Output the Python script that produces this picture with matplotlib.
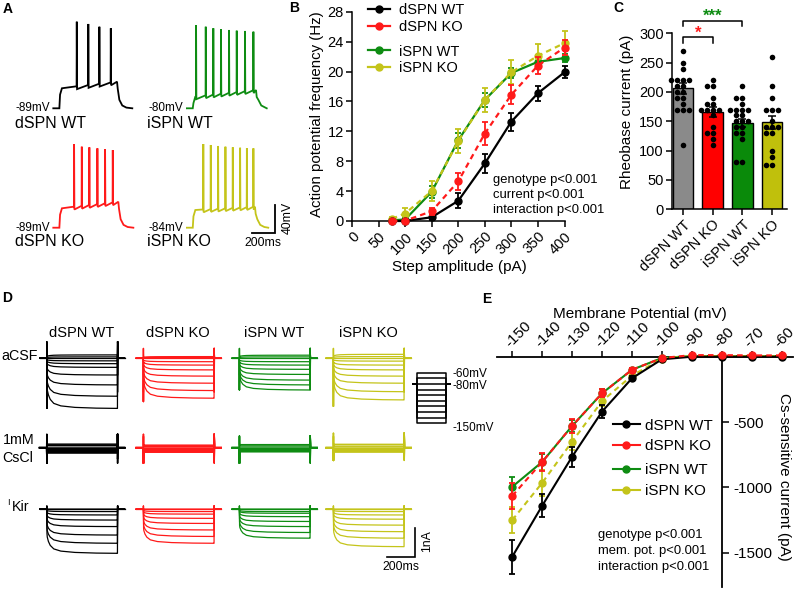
import numpy as np
import matplotlib
matplotlib.use('Agg')
import matplotlib.pyplot as plt
from matplotlib.lines import Line2D

plt.rcParams['font.family'] = ['Liberation Sans', 'DejaVu Sans']
plt.rcParams['lines.scale_dashes'] = False
plt.rcParams['axes.linewidth'] = 1.1
plt.rcParams['axes.unicode_minus'] = False

W, H = 800, 593
fig = plt.figure(figsize=(W / 100, H / 100), dpi=100)

# ============================ DATA ============================
groups = ['dSPN WT', 'dSPN KO', 'iSPN WT', 'iSPN KO']
line_colors = ['#000000', '#ff1a1a', '#0e8c12', '#c4c41a']
bar_colors = ['#8a8a8a', '#ff0000', '#0a8a0a', '#c0c00c']

# ---- Panel A (current clamp traces; ms / mV) ----
A_rest = [-89, -89, -80, -84]
A_step_on = [52, 52, 52, 52]
A_step_off = [547, 558, 595, 586]
A_end = [678, 687, 687, 700]
A_v_start = [-60.7, -61.6, -63.6, -59.0]
A_v_end = [-51.4, -52.3, -54.1, -54.3]
A_spike_t = [[201, 300, 395, 493],
             [178, 244, 309, 378, 444, 510],
             [80, 163, 228, 294, 363, 429, 500, 572],
             [142, 206, 269, 332, 395, 458, 516, 572]]
A_spike_peak = [[33.4, 30.2, 26.3, 24.1],
                [28.9, 25.5, 24.6, 23.2, 22.2, 20.8],
                [37.7, 35.3, 33.1, 31.7, 30.7, 29.7, 29.3, 28.3],
                [34.3, 32.9, 31.5, 30.5, 29.6, 29.0, 28.6, 28.2]]
A_rest_labels = ['-89mV', '-89mV', '-80mV', '-84mV']

# ---- Panel B ----
step_amp = [75, 100, 150, 200, 250, 300, 350, 400]
freq_dWT = [0, 0, 0.5, 2.7, 7.7, 13.3, 17.1, 19.9]
err_dWT = [0, 0.1, 0.36, 1.0, 1.3, 1.2, 1.0, 0.78]
freq_dKO = [0, 0.05, 1.3, 5.3, 11.7, 16.9, 20.8, 23.2]
err_dKO = [0, 0.1, 0.45, 1.1, 1.55, 1.3, 1.1, 1.0]
freq_iWT = [0.1, 0.2, 3.9, 10.8, 16.2, 19.8, 21.3, 21.8]
err_iWT = [0.1, 0.2, 0.8, 1.0, 0.9, 0.7, 0.6, 0.5]
freq_iKO = [0.3, 1.0, 4.0, 10.7, 16.2, 19.9, 22.1, 23.8]
err_iKO = [0.2, 0.8, 1.3, 1.6, 1.6, 1.6, 1.6, 1.65]
B_stats = ['genotype p<0.001', 'current p<0.001', 'interaction p<0.001']

# ---- Panel C ----
rheo_mean = [206, 166, 146.5, 148]
rheo_sem = [10, 8, 7, 11]
rheo_dWT = [270, 250, 240, 220, 220, 220, 220, 210, 210, 200, 200, 190, 190, 180, 170, 170, 170, 110]
rheo_dKO = [220, 210, 210, 190, 180, 180, 170, 170, 170, 170, 160, 140, 130, 130, 120, 110]
rheo_iWT = [210, 190, 190, 180, 170, 170, 170, 170, 160, 160, 150, 150, 150, 140, 140, 130, 130, 120, 80, 80]
rheo_iKO = [260, 210, 190, 170, 170, 170, 150, 140, 140, 140, 130, 130, 100, 90, 75, 75]
sig_pairs = [(0, 1, '*', '#ff1a1a'), (0, 2, '***', '#0e8c12')]

# ---- Panel D (voltage clamp; ms / pA) ----
D_steps = [-60, -70, -80, -90, -100, -110, -120, -130, -140, -150]
aCSF_ss = [[120, 50, 0, -90, -190, -320, -590, -940, -1340, -1770],
           [60, 30, 0, -120, -240, -410, -630, -880, -1140, -1410],
           [110, 50, 0, -120, -240, -390, -570, -770, -940, -1120],
           [140, 60, 0, -100, -240, -410, -630, -880, -1180, -1470]]
CsCl_ss = [[124, 71, 0, -35, -71, -95, -117, -141, -166, -187],
           [88, 46, 0, -35, -60, -81, -106, -124, -141, -159],
           [106, 60, 0, -35, -60, -81, -95, -117, -131, -141],
           [117, 53, 0, -35, -60, -81, -106, -124, -141, -152]]
Kir_ss = [[0, 0, 0, -80, -200, -380, -610, -910, -1200, -1555],
          [0, 0, 0, -80, -170, -320, -500, -730, -960, -1200],
          [0, 0, 0, -80, -140, -260, -430, -610, -820, -1020],
          [0, 0, 0, -80, -200, -350, -560, -790, -1020, -1320]]
relax_t = [4, 12, 25, 50, 100, 200, 350, 498]
relax_f = [0.55, 0.63, 0.73, 0.82, 0.9, 0.95, 0.98, 0.995, 1.0]
trans_max = [[590, 350, 350, 350], [480, 480, 420, 520], [120, 120, 120, 120]]
trans_min = [[-1770, -1530, -1120, -1700], [-550, -550, -550, -450], [0, 0, 0, 0]]

# ---- Panel E ----
mem_pot = [-150, -140, -130, -120, -110, -100, -90, -80, -70, -60]
I_dWT = [-1530, -1140, -765, -420, -165, -20, 0, 0, 0, 0]
e_dWT = [130, 90, 77, 50, 20, 10, 5, 5, 5, 5]
I_dKO = [-1065, -805, -530, -280, -100, -10, 12, 12, 10, 10]
e_dKO = [100, 70, 50, 30, 15, 10, 5, 5, 5, 5]
I_iWT = [-995, -805, -530, -280, -100, -10, 5, 5, 5, 5]
e_iWT = [75, 60, 45, 30, 15, 10, 5, 5, 5, 5]
I_iKO = [-1250, -965, -650, -340, -145, -15, 5, 5, 5, 5]
e_iKO = [100, 100, 65, 40, 20, 10, 5, 5, 5, 5]
E_stats = ['genotype p<0.001', 'mem. pot. p<0.001', 'interaction p<0.001']


# ============================ HELPERS ============================
def px_axes(left, top, right, bottom):
    return fig.add_axes([left / W, 1 - bottom / H, (right - left) / W, (bottom - top) / H])


def trace_axes(x0, y0, sx, sy, xlim, ylim, xref=0.0, yref=0.0):
    left = x0 + (xlim[0] - xref) * sx
    right = x0 + (xlim[1] - xref) * sx
    top = y0 - (ylim[1] - yref) * sy
    bottom = y0 + (yref - ylim[0]) * sy
    ax = px_axes(left, top, right, bottom)
    ax.set_xlim(*xlim)
    ax.set_ylim(*ylim)
    ax.axis('off')
    return ax


def ftext(x, y, s, **kw):
    kw.setdefault('va', 'center')
    return fig.text(x / W, 1 - y / H, s, **kw)


# ============================ PANEL A ============================
A_origin = [(53.3, 108.3), (53.3, 227.7), (186.7, 108.3), (186.7, 227.7)]
A_sx, A_sy = 0.1165, 0.7075
A_axes = []
for i in range(4):
    rest, on, off, end = A_rest[i], A_step_on[i], A_step_off[i], A_end[i]
    vs, ve = A_v_start[i], A_v_end[i]

    def plat(t):
        return vs + (ve - vs) * (t - on) / (off - on)

    pts = [(0, rest), (on, rest), (on + 6, vs - 9), (on + 22, vs)]
    for ts, pk in zip(A_spike_t[i], A_spike_peak[i]):
        pts += [(ts - 1, plat(ts)), (ts + 0.5, pk), (ts + 3, plat(ts) - 4)]
    pts += [(off, ve), (off + 6, ve - 10), (off + 20, rest + 12), (off + 45, rest + 4),
            (off + 80, rest + 1), (end, rest)]
    t, v = zip(*pts)
    x0, y0 = A_origin[i]
    ax = trace_axes(x0, y0, A_sx, A_sy, (-10, 900), (-115, 45), 0, rest)
    ax.plot(t, v, color=line_colors[i], lw=1.3, solid_joinstyle='miter')
    A_axes.append(ax)
    ftext(x0 - 3, y0, A_rest_labels[i], ha='right', fontsize=8.5)

ftext(15, 123.5, groups[0], fontsize=11.5)
ftext(15, 241, groups[1], fontsize=11.5)
ftext(147, 123.5, groups[2], fontsize=11.5)
ftext(147, 241, groups[3], fontsize=11.5)

# scale bar in iSPN KO axes (200 ms, 40 mV)
axs = A_axes[3]
axs.plot([558, 758, 758], [-92, -92, -52], color='black', lw=1.3, solid_joinstyle='miter')
ftext(263, 243, '200ms', ha='center', fontsize=8.8)
ftext(287.5, 218, '40mV', ha='center', rotation=90, fontsize=8.8)

# ============================ PANEL B ============================
axB = px_axes(352, 11.7, 564.5, 221)
axB.set_xlim(0, 400)
axB.set_ylim(0, 28)
B_series = [(freq_dWT, err_dWT, '-', 5), (freq_dKO, err_dKO, '--', 6),
            (freq_iWT, err_iWT, '-', 3), (freq_iKO, err_iKO, '--', 4)]
for i, (f, e, ls, z) in enumerate(B_series):
    eb = axB.errorbar(step_amp, f, yerr=e, color=line_colors[i], marker='o', ms=5,
                      lw=1.6, elinewidth=1.3, capsize=2.5, capthick=1.3, zorder=z,
                      clip_on=False)
    if ls == '--':
        eb[0].set_dashes([4, 3])
    for a in eb[1] + eb[2]:
        a.set_clip_on(False)
axB.spines['top'].set_visible(False)
axB.spines['right'].set_visible(False)
axB.set_xticks(list(range(0, 401, 50)))
axB.set_yticks(list(range(0, 29, 4)))
axB.tick_params(direction='out', length=4, width=1.1, labelsize=10.5, pad=2)
for lab in axB.get_xticklabels():
    lab.set_rotation(45)
    lab.set_ha('right')
    lab.set_rotation_mode('anchor')
axB.set_xlabel('Step amplitude (pA)', fontsize=11)
axB.xaxis.set_label_coords((459 - 352) / 212.5, -(267 - 221) / 209.3)
axB.xaxis.label.set_va('center')
axB.set_ylabel('Action potential frequency (Hz)', fontsize=10.8)
axB.yaxis.set_label_coords((317 - 352) / 212.5, (221 - 114) / 209.3)
axB.yaxis.label.set_va('center')

hB = [Line2D([], [], color=c, marker='o', ms=5, lw=1.6) for c in line_colors]
legkw = dict(loc='upper left', bbox_transform=fig.transFigure, frameon=False, fontsize=10.5,
             handlelength=1.5, handletextpad=0.65, labelspacing=0.2, borderpad=0,
             borderaxespad=0)
l1 = axB.legend(hB[:2], groups[:2], bbox_to_anchor=(368 / W, 1 - 3.5 / H), **legkw)
axB.add_artist(l1)
axB.legend(hB[2:], groups[2:], bbox_to_anchor=(368 / W, 1 - 44.5 / H), **legkw)
for k, s in enumerate(B_stats):
    ftext(493, 180 + 15 * k, s, fontsize=9.4)

# ============================ PANEL C ============================
axC = px_axes(672, 33.3, 787, 209.3)
axC.set_xlim(-0.37, 3.5)
axC.set_ylim(0, 300)
xpos = np.arange(4)
axC.bar(xpos, rheo_mean, width=0.69, color=bar_colors, edgecolor='black', linewidth=1.0,
        zorder=1)
axC.errorbar(xpos, rheo_mean, yerr=rheo_sem, fmt='none', ecolor='black', elinewidth=1.1,
             capsize=3, capthick=1.1, zorder=2)


def swarm_offsets(vals, px_per_val, dot_px, px_per_x):
    placed, offs = [], []
    cands = sorted(np.arange(-12, 12.01, 0.5), key=lambda c: (abs(c), c))
    for v in vals:
        y = v * px_per_val
        best = 0.0
        for c in cands:
            if all((c - xx) ** 2 + (y - yy) ** 2 >= dot_px ** 2 for xx, yy in placed):
                best = c
                break
        placed.append((best, y))
        offs.append(best / px_per_x)
    return offs


for i, vals in enumerate([rheo_dWT, rheo_dKO, rheo_iWT, rheo_iKO]):
    offs = swarm_offsets(vals, 0.587, 5.6, 29.7)
    axC.scatter(np.full(len(vals), float(i)) + np.array(offs), vals, s=16, color='black',
                zorder=3, clip_on=False, linewidths=0)
axC.spines['top'].set_visible(False)
axC.spines['right'].set_visible(False)
axC.set_yticks(list(range(0, 301, 50)))
axC.set_xticks(xpos)
axC.set_xticklabels(groups)
axC.tick_params(direction='out', length=4, width=1.1, labelsize=10.5, pad=2)
for lab in axC.get_xticklabels():
    lab.set_rotation(45)
    lab.set_ha('right')
    lab.set_rotation_mode('anchor')
axC.set_ylabel('Rheobase current (pA)', fontsize=11)
axC.yaxis.set_label_coords((627 - 672) / 115, (209.3 - 112) / 176)
axC.yaxis.label.set_va('center')
sig_y = [293, 321]
for (a, b, s, c), yb in zip(sig_pairs, sig_y):
    axC.plot([a, a, b, b], [yb - 9, yb, yb, yb - 9], color='black', lw=1.1, clip_on=False)
    axC.text((a + b) / 2, yb - 5, s, color=c, ha='center', va='bottom', fontsize=12,
             fontweight='bold')

# ============================ PANEL D ============================
D_col_x0 = [46.7, 143.3, 239.3, 333.3]
D_row_y0 = [358.3, 447.7, 509.3]
D_sx, D_sy = 0.1415, 0.0283
D_k = [60, 40, 20]
D_data = [aCSF_ss, CsCl_ss, Kir_ss]
D_axes = {}
for r in range(3):
    for c in range(4):
        ax = trace_axes(D_col_x0[c], D_row_y0[r], D_sx, D_sy, (-60, 700), (-2300, 700))
        D_axes[(r, c)] = ax
        for v, ss in zip(D_steps, D_data[r][c]):
            f = relax_f if r != 1 else [1.0] * len(relax_f)
            on = float(np.clip(D_k[r] * (v + 80), trans_min[r][c], trans_max[r][c]))
            off = float(np.clip(-D_k[r] * (v + 80), trans_min[r][c], trans_max[r][c]))
            tt = [-50, 0, 1, 2] + relax_t + [500, 501, 503, 550]
            yy = [0, 0, on, ss * f[0]] + [ss * q for q in f[1:]] + [ss, off, 0, 0]
            ax.plot(tt, yy, color=line_colors[c], lw=0.9 if r != 1 else 1.1)

for c in range(4):
    ftext(D_col_x0[c] + 35, 333, groups[c], ha='center', fontsize=10.5)
ftext(1.7, 356.5, 'aCSF', fontsize=10.3)
ftext(3, 440, '1mM', fontsize=10.3)
ftext(2, 458, 'CsCl', fontsize=10.3)
ftext(7, 502.5, 'I', fontsize=6.5)
ftext(11.5, 507, 'Kir', fontsize=10.3)

# voltage protocol schematic (ms / mV)
axP = trace_axes(417.3, 372.7, 0.0568, 0.562, (-100, 600), (-160, -50), 0, -60)
for v in D_steps:
    axP.plot([-80, 0, 0, 500, 500, 580], [-80, -80, v, v, -80, -80], color='black', lw=1.1)
ftext(452.5, 374, '-60mV', fontsize=8.5)
ftext(452.5, 386, '-80mV', fontsize=8.5)
ftext(452.5, 428, '-150mV', fontsize=8.5)

# D scale bar (200 ms, 1 nA) in iSPN KO IKir axes
axd = D_axes[(2, 3)]
axd.plot([377, 577, 577], [-1675, -1675, -675], color='black', lw=1.2, solid_joinstyle='miter')
ftext(401, 567, '200ms', ha='center', fontsize=8.8)
ftext(427, 541, '1nA', ha='center', rotation=90, fontsize=8.8)

# ============================ PANEL E ============================
axE = px_axes(497.3, 356.7, 792.7, 587)
axE.set_xlim(-155, -56.3)
axE.set_ylim(-1762, 0)
E_series = [(I_dWT, e_dWT, '-', 5), (I_dKO, e_dKO, '--', 6),
            (I_iWT, e_iWT, '-', 3), (I_iKO, e_iKO, '--', 4)]
for i, (y, e, ls, z) in enumerate(E_series):
    eb = axE.errorbar(mem_pot, y, yerr=e, color=line_colors[i], marker='o', ms=5, lw=1.5,
                      elinewidth=1.3, capsize=2.5, capthick=1.3, zorder=z, clip_on=False)
    if ls == '--':
        eb[0].set_dashes([4, 3])
    for a in eb[1] + eb[2]:
        a.set_clip_on(False)
axE.spines['left'].set_visible(False)
axE.spines['bottom'].set_visible(False)
axE.spines['top'].set_linewidth(1.3)
axE.spines['right'].set_linewidth(1.3)
axE.spines['right'].set_position(('data', -80))
axE.xaxis.tick_top()
axE.yaxis.tick_right()
axE.set_xticks(mem_pot)
axE.set_yticks([-500, -1000, -1500])
axE.tick_params(axis='x', direction='out', length=4, width=1.1, labelsize=11, pad=1)
axE.tick_params(axis='y', direction='out', length=5, width=1.1, labelsize=11, pad=3)
for lab in axE.get_xticklabels():
    lab.set_rotation(45)
    lab.set_ha('left')
    lab.set_va('bottom')
    lab.set_rotation_mode('anchor')
axE.set_xlabel('Membrane Potential (mV)', fontsize=11)
axE.xaxis.set_label_position('top')
axE.xaxis.set_label_coords((640 - 497.3) / 295.4, (587 - 314) / 230.3)
axE.xaxis.label.set_va('center')
axE.set_ylabel('Cs-sensitive current (pA)', fontsize=11, rotation=-90)
axE.yaxis.set_label_position('right')
axE.yaxis.set_label_coords((784 - 497.3) / 295.4, (587 - 477) / 230.3)
axE.yaxis.label.set_va('center')
axE.yaxis.label.set_ha('center')

hE = [Line2D([], [], color=c, marker='o', ms=5, lw=1.5) for c in line_colors]
legkwE = dict(loc='upper left', bbox_transform=fig.transFigure, frameon=False, fontsize=11,
              handlelength=1.75, handletextpad=0.35, labelspacing=0.42, borderpad=0,
              borderaxespad=0)
l3 = axE.legend(hE[:2], groups[:2], bbox_to_anchor=(613 / W, 1 - 418.5 / H), **legkwE)
axE.add_artist(l3)
axE.legend(hE[2:], groups[2:], bbox_to_anchor=(613 / W, 1 - 463.5 / H), **legkwE)
for k, s in enumerate(E_stats):
    ftext(598, 535 + 16 * k, s, fontsize=9.4)

# ============================ PANEL LETTERS ============================
for s, x, y in [('A', 3, 9), ('B', 289, 8), ('C', 613, 7.5), ('D', 2, 298), ('E', 482, 299)]:
    ftext(x, y, s, fontsize=10, fontweight='bold')

fig.savefig('out.png', dpi=100)
